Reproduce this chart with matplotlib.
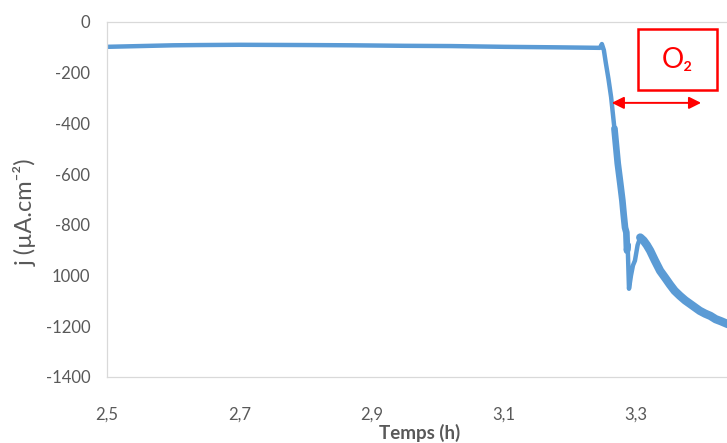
import numpy as np
import matplotlib.pyplot as plt
from matplotlib.patches import Rectangle

plt.rcParams['font.family'] = ['Lato', 'DejaVu Sans']
plt.rcParams['axes.unicode_minus'] = False

# time (h) and current density (uA/cm2)
temps = [2.50, 2.55, 2.60, 2.64, 2.70, 2.80, 2.87, 2.95, 3.02, 3.10, 3.18, 3.245,
         3.248, 3.251, 3.254, 3.258, 3.262, 3.267, 3.272, 3.276, 3.279, 3.281,
         3.283, 3.285, 3.286, 3.287, 3.289, 3.292, 3.295, 3.298, 3.302, 3.306,
         3.311, 3.316, 3.321, 3.328, 3.336, 3.344, 3.351, 3.358, 3.366, 3.374,
         3.381, 3.389, 3.396, 3.404, 3.412, 3.420, 3.428, 3.437, 3.445]
j = [-98, -95, -92, -91, -90, -91, -92, -94, -95, -98, -100, -102,
     -87, -111, -162, -225, -297, -420, -558, -640, -704, -760,
     -811, -830, -902, -880, -1052, -1000, -960, -941, -880, -850,
     -862, -880, -902, -940, -981, -1010, -1036, -1060, -1080, -1098,
     -1111, -1126, -1139, -1150, -1159, -1172, -1180, -1190, -1198]

xticks = [2.5, 2.7, 2.9, 3.1, 3.3]
xlabels = ['2,5', '2,7', '2,9', '3,1', '3,3']
yticks = [0, -200, -400, -600, -800, -1000, -1200, -1400]
ylabels = ['0', '-200', '-400', '-600', '-800', '1000', '-1200', '-1400']

grey = '#595959'
blue = '#5B9BD5'
red = '#FF0000'

fig = plt.figure(figsize=(7.27, 4.43), dpi=100)
ax = fig.add_axes([0.1472, 0.149, 0.91, 0.8014])

t = np.array(temps)
y = np.array(j)
ax.plot(t, y, color=blue, lw=3.2, solid_capstyle='round', solid_joinstyle='round')
# noisy parts of the trace look thicker
noisy = (t >= 3.267) & (t <= 3.287)
ax.plot(t[noisy], y[noisy], color=blue, lw=4.8, solid_capstyle='round')
tail = t >= 3.306
ax.plot(t[tail], y[tail], color=blue, lw=6, solid_capstyle='round')

ax.set_xlim(2.5, 3.5)
ax.set_ylim(-1400, 0)
ax.set_xticks(xticks)
ax.set_xticklabels(xlabels)
ax.set_yticks(yticks)
ax.set_yticklabels(ylabels)
ax.tick_params(axis='both', length=0, labelsize=12, labelcolor=grey)
ax.tick_params(axis='x', pad=21)
ax.tick_params(axis='y', pad=12)

for side in ['left', 'top', 'bottom']:
    ax.spines[side].set_color('#D9D9D9')
    ax.spines[side].set_linewidth(0.9)
ax.spines['right'].set_visible(False)

fig.text(0.035, 0.521, 'j (µA.cm⁻²)', rotation=90, ha='center', va='center',
         fontsize=17, color=grey)
fig.text(0.577, 0.022, 'Temps (h)', ha='center', va='center',
         fontsize=13.5, fontweight='bold', color=grey)

# O2 box and arrow
ax.add_patch(Rectangle((3.302, -269), 0.1196, 240, fill=False,
                       edgecolor=red, lw=1.8, clip_on=False))
ax.text(3.362, -150, 'O₂', ha='center', va='center', fontsize=20, color=red)
ax.annotate('', xy=(3.263, -319), xytext=(3.398, -319),
            arrowprops=dict(arrowstyle='<|-|>', color=red, lw=1.4,
                            mutation_scale=18, shrinkA=0, shrinkB=0))

fig.savefig('out.png', dpi=100)
